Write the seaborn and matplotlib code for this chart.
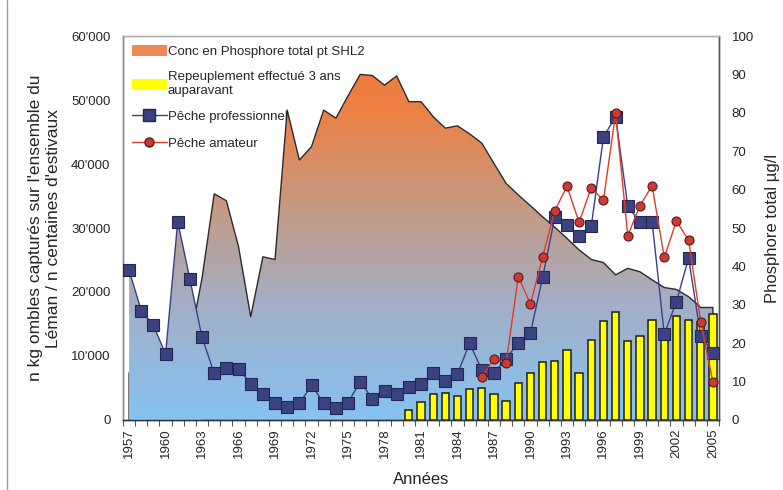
#! /usr/bin/env python3
'''
Ombles du Léman: captures, repeuplement et phosphore total
'''

# imports
import numpy as np
import matplotlib
matplotlib.use('Agg')
import matplotlib.pyplot as plt
import seaborn as sns
from matplotlib.colors import LinearSegmentedColormap
from matplotlib.patches import Patch
from matplotlib.lines import Line2D
from matplotlib.ticker import FuncFormatter

# data
YEARS = list(range(1957, 2006))
PHOSPHORE = [12.3, 11.3, 10.4, 16.9, 20.0, 20.4, 37.0, 58.9, 57.1, 45.1,
             26.9, 42.5, 41.8, 80.7, 67.7, 71.2, 80.7, 78.6, 84.4, 90.0,
             89.7, 87.2, 89.6, 82.9, 82.9, 79.0, 76.0, 76.6, 74.5, 72.1,
             66.8, 61.6, 58.6, 55.8, 52.9, 50.2, 47.3, 44.3, 41.8, 41.0,
             37.8, 39.5, 38.6, 36.5, 34.5, 34.0, 32.1, 29.3, 29.3]
PECHE_PRO = [23400, 17100, 14800, 10300, 31000, 22000, 12900, 7300, 8200, 8000,
             5700, 4000, 2600, 2100, 2600, 5400, 2700, 1800, 2700, 6000,
             3300, 4600, 4100, 5100, 5700, 7300, 6100, 7200, 12000, 7800,
             7300, 9600, 12100, 13600, 22300, 31700, 30500, 28800, 30300, 44200,
             47400, 33400, 30900, 31000, 13400, 18500, 25300, 13100, 10500]
AMATEUR_YEARS = list(range(1986, 2006))
PECHE_AMATEUR = [6700, 9600, 8900, 22400, 18100, 25500, 32700, 36500, 30900, 36300,
                 34300, 48000, 28800, 33500, 36600, 25400, 31100, 28100, 15300, 5900]
REPEUPL_YEARS = list(range(1980, 2006))
REPEUPLEMENT = [1500, 2800, 4100, 4200, 3700, 4800, 5000, 4100, 3000, 5800,
                7400, 9000, 9200, 10900, 7300, 12500, 15400, 16900, 12300, 13100,
                15700, 13300, 16200, 15600, 15300, 16600]
EARLY = 7  # years where the shaded area follows the professional catch

# style
sns.set_style("white")
plt.rcParams['font.family'] = ['Liberation Sans', 'DejaVu Sans']
GRAD = LinearSegmentedColormap.from_list(
    'phos', [(0.0, '#86c2f2'), (0.3, '#a3afc6'), (0.55, '#c49a84'),
             (0.8, '#ec8246'), (1.0, '#f27534')])
XMIN, XMAX = YEARS[0] - 0.5, YEARS[-1] + 0.5


def gradient_fill(axis, x, y, ymax, z):
    poly = axis.fill_between(x, 0, y, facecolor='none', edgecolor='none', zorder=z)
    grad = np.linspace(0, 1, 256).reshape(-1, 1)
    im = axis.imshow(grad, extent=[XMIN, XMAX, 0, ymax], origin='lower',
                     aspect='auto', cmap=GRAD, zorder=z)
    im.set_clip_path(poly.get_paths()[0], transform=axis.transData)


fig = plt.figure(figsize=(7.83, 4.90), dpi=100)
ax = fig.add_axes([123 / 783, 1 - 420 / 490, 596 / 783, 384 / 490])
ax2 = ax.twinx()
ax.set_zorder(2); ax2.set_zorder(1); ax.patch.set_visible(False)

# phosphorus area on right axis
gradient_fill(ax2, YEARS, PHOSPHORE, 100, 1)
ax2.plot([YEARS[0]] + YEARS + [YEARS[-1]], [0] + PHOSPHORE + [0],
         color='#2b2b2b', lw=1.0, zorder=2)
ax2.set_ylim(0, 100); ax2.set_xlim(XMIN, XMAX)
ax2.set_yticks(range(0, 101, 10))

# early shading under professional catch
gradient_fill(ax, YEARS[:EARLY], PECHE_PRO[:EARLY], 60000, 0.5)

# bars and lines on left axis
sns.barplot(x=REPEUPL_YEARS, y=REPEUPLEMENT, native_scale=True, color='#ffff00',
            saturation=1, width=0.6, errorbar=None, ax=ax, zorder=3)
for cont in ax.containers:
    for bar in cont:
        bar.set_edgecolor('#1e1e1e'); bar.set_linewidth(1.1)
sns.lineplot(x=YEARS, y=PECHE_PRO, color='#3a3f86', lw=1.0, marker='s',
             markersize=8.5, markerfacecolor='#3c4180', markeredgecolor='#23264f',
             markeredgewidth=0.8, ax=ax, zorder=4)
sns.lineplot(x=AMATEUR_YEARS, y=PECHE_AMATEUR, color='#e03a2a', lw=1.0, marker='o',
             markersize=6.5, markerfacecolor='#cc3a33', markeredgecolor='#5a1a1a',
             markeredgewidth=0.8, ax=ax, zorder=5)
ax.set_ylim(0, 60000); ax.set_xlim(XMIN, XMAX)
ax.yaxis.set_major_formatter(FuncFormatter(lambda v, p: f"{int(v):,}".replace(',', "'")))

# ticks
ax.set_xticks(range(1957, 2006, 3))
ax.set_xticks(np.arange(XMIN, XMAX + 0.5, 1), minor=True)
ax.tick_params(axis='x', which='major', length=0, labelrotation=90, labelsize=9.5, pad=6)
ax.tick_params(axis='x', which='minor', length=4, width=0.8, color='#555555', direction='out', bottom=True)
ax.tick_params(axis='y', length=0, labelsize=9.5, pad=9)
ax2.tick_params(axis='y', length=0, labelsize=9.5, pad=9)

# spines
for a in (ax, ax2):
    a.spines['top'].set_color('#b0b0b0')
    a.spines['left'].set_color('#8a8a8a')
    a.spines['right'].set_color('#555555')
    a.spines['bottom'].set_color('#333333')
    for s in a.spines.values():
        s.set_linewidth(1.0)

# labels
ax.set_xlabel('Années', fontsize=12, labelpad=10)
ax.set_ylabel("n kg ombles capturés sur l'ensemble du\nLéman / n centaines d'estivaux",
              fontsize=12.5, labelpad=7, linespacing=1.25)
ax2.set_ylabel('Phosphore total µg/l', fontsize=12, labelpad=8)

# legend
handles = [
    Patch(facecolor='#ee8a55', edgecolor='none'),
    Patch(facecolor='#ffff00', edgecolor='none'),
    Line2D([0], [0], color='#3a3f86', lw=1.0, marker='s', markersize=8.5,
           markerfacecolor='#3c4180', markeredgecolor='#23264f'),
    Line2D([0], [0], color='#e03a2a', lw=1.0, marker='o', markersize=6.5,
           markerfacecolor='#cc3a33', markeredgecolor='#5a1a1a'),
]
labels = ['Conc en Phosphore total pt SHL2',
          'Repeuplement effectué 3 ans\nauparavant',
          'Pêche professionnel',
          'Pêche amateur']
ax.legend(handles, labels, loc='upper left', bbox_to_anchor=(0.0, 1.0),
          frameon=False, fontsize=9.5, handlelength=2.6, handleheight=0.9,
          handletextpad=0.1, labelspacing=1.0, borderaxespad=0.3)

# scan frame on the left
fig.add_artist(Line2D([7 / 783, 7 / 783], [0, 1], color='#9a9a9a', lw=1.0))

fig.savefig('out.png', dpi=100)
